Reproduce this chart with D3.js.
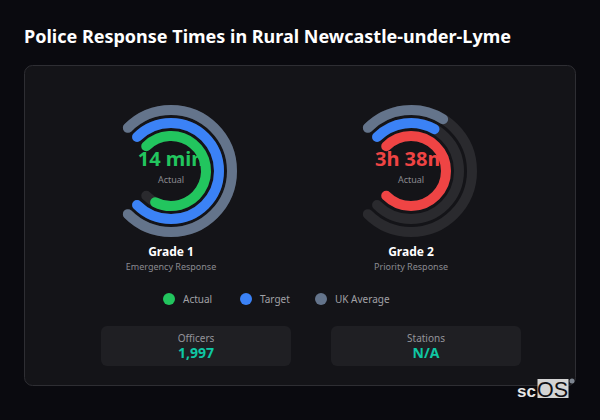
<!DOCTYPE html>
<html>
<head>
<meta charset="utf-8">
<script src="https://cdn.jsdelivr.net/npm/d3@7"></script>
<style>
  html, body { margin:0; padding:0; background:#0a0a0f; overflow:hidden; }
  text { font-family:"Noto Sans", sans-serif; }
</style>
</head>
<body>
<div id="chart"></div>
<script>
const w = 600;
const h = 420;

const grades = ["Grade 1", "Grade 2"];
const subtitles = ["Emergency Response", "Priority Response"];
const valueLabels = ["14 min", "3h 38m"];
const actualMinutes = [14, 218];
const targetMinutes = [15, 60];
const ukAvgMinutes = [15, 62];
const scaleMax = [15, 218];
const actualColors = ["#22c55e", "#ef4444"];

const legendLabels = ["Actual", "Target", "UK Average"];
const legendColors = ["#22c55e", "#3b82f6", "#64748b"];
const statLabels = ["Officers", "Stations"];
const statValues = ["1,997", "N/A"];

var svg = d3.select("#chart")
            .append("svg")
            .attr("width", w)
            .attr("height", h)
            .style("display", "block");

svg.append("text")
   .attr("x", 24)
   .attr("y", 43)
   .attr("fill", "#ffffff")
   .attr("font-size", 18)
   .attr("font-weight", 700)
   .text("Police Response Times in Rural Newcastle-under-Lyme");

svg.append("rect")
   .attr("x", 24.5)
   .attr("y", 65.5)
   .attr("width", 551)
   .attr("height", 320)
   .attr("rx", 8)
   .attr("fill", "#141418")
   .attr("stroke", "#2e2e33");

// ring positions, the track covers 270 degrees starting top left
var centerX = d3.scalePoint().domain(grades).range([171, 411]);
var centerY = 171;
var startAngle = -Math.PI * 0.75;
var endAngle = Math.PI * 0.75;
var ringRadius = [35, 48, 61];

function ringPath(r, a1) {
  var p = d3.path();
  p.arc(0, 0, r, startAngle, a1);
  return p.toString();
}

grades.forEach(function (grade, i) {
  var g = svg.append("g")
             .attr("transform", "translate(" + centerX(grade) + "," + centerY + ")");

  var angle = d3.scaleLinear()
                .domain([0, scaleMax[i]])
                .range([startAngle, endAngle])
                .clamp(true);

  var rings = [
    { r: ringRadius[2], v: ukAvgMinutes[i], c: legendColors[2] },
    { r: ringRadius[1], v: targetMinutes[i], c: legendColors[1] },
    { r: ringRadius[0], v: actualMinutes[i], c: actualColors[i] }
  ];

  g.selectAll("path.track")
   .data(rings)
   .enter()
   .append("path")
   .attr("class", "track")
   .attr("d", (d) => ringPath(d.r, endAngle))
   .attr("fill", "none")
   .attr("stroke", "#2a2a2e")
   .attr("stroke-width", 10)
   .attr("stroke-linecap", "round");

  g.selectAll("path.value")
   .data(rings)
   .enter()
   .append("path")
   .attr("class", "value")
   .attr("d", (d) => ringPath(d.r, angle(d.v)))
   .attr("fill", "none")
   .attr("stroke", (d) => d.c)
   .attr("stroke-width", 10)
   .attr("stroke-linecap", "round");

  g.append("text")
   .attr("text-anchor", "middle")
   .attr("y", -5)
   .attr("fill", actualColors[i])
   .attr("font-size", 20)
   .attr("font-weight", 700)
   .text(valueLabels[i]);

  g.append("text")
   .attr("text-anchor", "middle")
   .attr("y", 12)
   .attr("fill", "#8a8a90")
   .attr("font-size", 9)
   .text("Actual");

  g.append("text")
   .attr("text-anchor", "middle")
   .attr("y", 85)
   .attr("fill", "#ffffff")
   .attr("font-size", 12)
   .attr("font-weight", 700)
   .text(grade);

  g.append("text")
   .attr("text-anchor", "middle")
   .attr("y", 99)
   .attr("fill", "#8a8a90")
   .attr("font-size", 9)
   .text(subtitles[i]);
});

var legendX = d3.scaleOrdinal().domain(legendLabels).range([169, 246, 321]);

var legend = svg.append("g")
                .selectAll("g")
                .data(legendLabels)
                .enter()
                .append("g")
                .attr("transform", (d) => "translate(" + legendX(d) + ",299)");

legend.append("circle")
      .attr("r", 6)
      .attr("fill", (d, i) => legendColors[i]);

legend.append("text")
      .attr("x", 14)
      .attr("y", 4)
      .attr("fill", "#a1a1a6")
      .attr("font-size", 10)
      .text((d) => d);

var statX = d3.scalePoint().domain(statLabels).range([196, 426]);

var stats = svg.append("g")
               .selectAll("g")
               .data(statLabels)
               .enter()
               .append("g")
               .attr("transform", (d) => "translate(" + statX(d) + ",326)");

stats.append("rect")
     .attr("x", -95)
     .attr("width", 190)
     .attr("height", 40)
     .attr("rx", 6)
     .attr("fill", "#1f1f23");

stats.append("text")
     .attr("text-anchor", "middle")
     .attr("y", 16)
     .attr("fill", "#94949a")
     .attr("font-size", 10)
     .text((d) => d);

stats.append("text")
     .attr("text-anchor", "middle")
     .attr("y", 32)
     .attr("fill", "#0fc7a4")
     .attr("font-size", 14)
     .attr("font-weight", 700)
     .text((d, i) => statValues[i]);

// logo
var logo = svg.append("g");

logo.append("rect")
    .attr("x", 537.5)
    .attr("y", 379)
    .attr("width", 31)
    .attr("height", 19)
    .attr("fill", "#d4d4d4");

logo.append("text")
    .attr("x", 517)
    .attr("y", 397)
    .attr("fill", "#e8e8e8")
    .attr("font-size", 17)
    .attr("font-weight", 700)
    .style("font-family", "'Liberation Sans', Arial, sans-serif")
    .text("sc");

logo.append("text")
    .attr("x", 537)
    .attr("y", 397)
    .attr("fill", "#111114")
    .attr("font-size", 21.5)
    .style("font-family", "'Liberation Sans', Arial, sans-serif")
    .text("OS");

logo.append("circle")
    .attr("cx", 572)
    .attr("cy", 381)
    .attr("r", 2.5)
    .attr("fill", "#7d8590");
</script>
</body>
</html>
